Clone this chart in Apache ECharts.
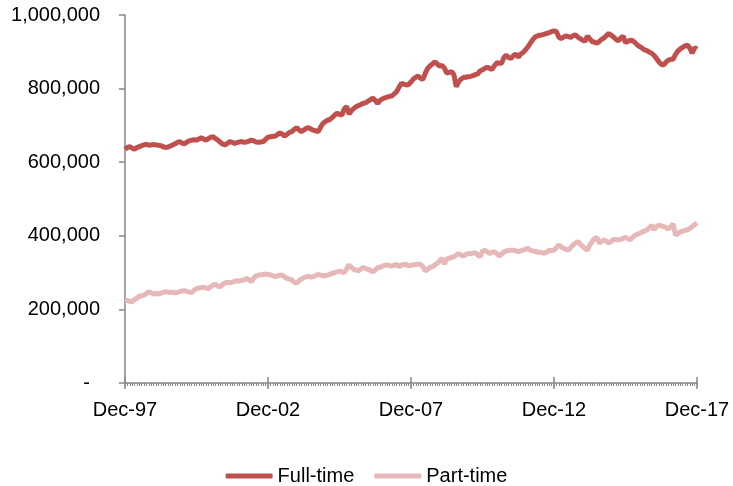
<!DOCTYPE html>
<html>
<head>
<meta charset="utf-8">
<script src="https://cdn.jsdelivr.net/npm/echarts@6/dist/echarts.min.js"></script>
<style>html,body{margin:0;padding:0;background:#fff;}#c{width:733px;height:486px;}</style>
</head>
<body>
<div id="c"></div>
<script>
// Monthly categories Dec-97 .. Dec-17
const monthNames = ['Jan','Feb','Mar','Apr','May','Jun','Jul','Aug','Sep','Oct','Nov','Dec'];
const categories = [];
for (let y = 1997, m = 11; y < 2017 || (y === 2017 && m <= 11); ) {
  categories.push(monthNames[m] + '-' + String(y % 100).padStart(2, '0'));
  m++; if (m > 11) { m = 0; y++; }
}

// Full-time (thousands)
const fullTime = [
635,640,642,638,635,640,642,645,647,649,646,647,648,647,646,645,642,640,641,644,
647,650,654,656,652,650,655,658,660,661,660,663,667,663,660,664,668,669,664,660,
654,649,647,651,656,654,651,653,655,656,654,655,657,660,658,655,654,655,656,662,
668,669,670,671,675,680,676,671,676,681,683,689,694,688,683,687,692,694,690,687,
685,683,694,705,710,714,716,722,728,733,730,728,745,751,731,740,746,751,754,757,
760,762,766,770,774,768,760,768,772,775,777,779,780,786,792,804,814,812,810,811,
818,826,831,834,828,825,842,855,862,867,873,867,861,863,856,842,844,846,838,805,
818,826,830,831,832,833,835,838,840,848,851,855,858,855,852,862,870,869,869,885,
891,884,882,890,894,885,894,898,905,913,923,932,940,943,945,946,948,950,952,955,
957,955,940,936,940,943,941,939,944,946,940,936,932,928,943,935,928,926,923,928,
934,938,944,950,945,940,934,930,937,943,925,928,932,930,925,918,914,910,905,903,
899,896,890,882,873,866,864,872,877,880,880,893,902,908,912,916,918,910,896,911,
907
];

// Part-time (thousands)
const partTime = [
226,224,222,221,227,230,236,237,239,243,248,245,242,243,242,244,246,248,247,246,
247,245,246,248,250,251,249,247,246,252,257,258,259,260,258,257,262,266,269,263,
262,268,272,273,273,274,276,278,277,279,280,284,280,275,285,291,293,294,295,296,
295,294,292,289,291,293,293,288,284,282,280,274,271,278,282,286,289,290,288,289,
292,295,293,292,291,293,296,298,300,302,304,302,300,310,321,314,309,307,305,310,
314,311,309,306,302,307,313,315,317,320,321,319,318,320,322,316,320,322,323,318,
320,321,322,323,322,316,305,309,314,316,321,325,332,339,323,337,339,341,343,348,
351,348,345,349,352,351,353,354,348,343,358,361,356,352,355,357,352,345,350,356,
359,360,361,361,359,357,359,361,363,366,361,359,358,356,355,354,352,356,361,360,
361,368,375,370,366,363,361,368,375,380,384,378,371,366,361,375,384,392,396,380,
385,389,385,381,385,390,390,389,390,393,396,392,389,396,402,404,407,410,413,416,
422,429,416,425,429,427,425,422,418,425,432,402,406,411,413,415,416,420,425,430,
435
];

const seriesNames = ['Full-time', 'Part-time'];
const yTicks = [0, 200000, 400000, 600000, 800000, 1000000];

const axisGray = '#868686';
const font = 'Liberation Sans, Arial, sans-serif';

const chart = echarts.init(document.getElementById('c'), null, {renderer: 'canvas'});
const baseX = {
  type: 'category', data: categories, boundaryGap: false, position: 'bottom',
  axisLine: {show: false}, axisLabel: {show: false}, splitLine: {show: false}
};
chart.setOption({
  animation: false,
  backgroundColor: '#fff',
  grid: {left: 125, right: 36, top: 15, bottom: 103, containLabel: false},
  legend: {
    top: 461, left: 'center', itemGap: 20, itemWidth: 47, itemHeight: 5,
    icon: 'roundRect',
    textStyle: {fontFamily: font, fontSize: 20, color: '#000'},
    data: seriesNames
  },
  xAxis: [
    Object.assign({}, baseX, {
      axisLine: {show: true, lineStyle: {color: axisGray, width: 1.5}},
      axisTick: {show: true, interval: 0, length: 3, lineStyle: {color: axisGray, width: 1}},
      axisLabel: {show: true, interval: 59, margin: 17, fontFamily: font, fontSize: 20, color: '#000'}
    }),
    Object.assign({}, baseX, {
      axisTick: {show: true, interval: 59, length: 6, lineStyle: {color: axisGray, width: 1.5}}
    }),
    Object.assign({}, baseX, {
      axisTick: {show: true, inside: true, interval: 59, length: 6, lineStyle: {color: axisGray, width: 1.5}}
    })
  ],
  yAxis: {
    type: 'value', min: yTicks[0], max: yTicks[yTicks.length - 1], interval: 200000,
    axisLine: {show: true, lineStyle: {color: axisGray, width: 1.5}},
    axisTick: {show: true, length: 6, lineStyle: {color: axisGray, width: 1.5}},
    splitLine: {show: false},
    axisLabel: {
      margin: 25, fontFamily: font, fontSize: 20, color: '#000',
      formatter: v => v === 0 ? '{d|-}' : v.toLocaleString('en-US'),
      rich: {d: {fontFamily: font, fontSize: 20, color: '#000', padding: [0, 10, 0, 0]}}
    }
  },
  series: [
    {name: seriesNames[0], type: 'line', xAxisIndex: 0, data: fullTime.map(v => v * 1000),
     showSymbol: false, symbol: 'none', color: '#C0504D', lineStyle: {width: 5, color: '#C0504D'}},
    {name: seriesNames[1], type: 'line', xAxisIndex: 0, data: partTime.map(v => v * 1000),
     showSymbol: false, symbol: 'none', color: '#E6B9B8', lineStyle: {width: 5, color: '#E6B9B8'}}
  ]
});
</script>
</body>
</html>
